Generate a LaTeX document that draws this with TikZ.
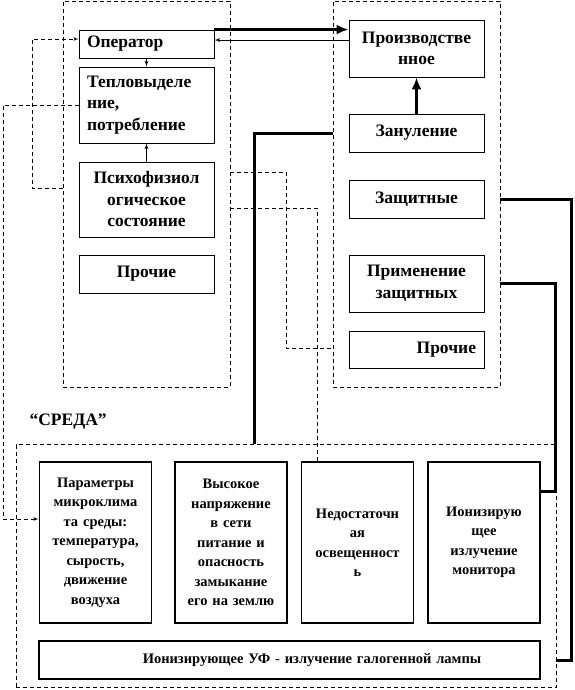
\documentclass[tikz,border=0pt]{standalone}
\usepackage{fontspec}
\setmainfont{Liberation Serif}
\usetikzlibrary{arrows,arrows.meta,positioning}
\tikzset{font=\bfseries}
\tikzset{blk/.style={draw, line width=.9pt, minimum width=135pt, text width=119pt,
    inner xsep=8pt, inner ysep=2pt, align=center,
    font=\fontsize{17.5}{21.5}\selectfont\bfseries}}
\tikzset{envblk/.style={draw, line width=1.8pt, minimum width=112pt, minimum height=161pt,
    text width=104pt, inner xsep=4pt, align=center,
    font=\fontsize{14.5}{19.5}\selectfont\bfseries}}
\tikzset{grp/.style={draw, dash pattern=on 4pt off 3pt, line width=.7pt}}
\tikzset{dsh/.style={dash pattern=on 4pt off 3pt, line width=.7pt}}
\tikzset{thk/.style={line width=3pt}}
\tikzset{bigtip/.style={-{Latex[length=12pt,width=10pt]}}}

\begin{document}
\begin{tikzpicture}[x=1pt,y=-1pt]
  \useasboundingbox (0,0) rectangle (574,690);

  \node[grp, minimum width=167pt, minimum height=386pt] (persbox) at (146.5,194) {};
  \node[grp, minimum width=167pt, minimum height=386pt] (prodbox) at (416.5,194) {};
  \node[grp, minimum width=540pt, minimum height=243pt] (env) at (286,566) {};

  \node[blk, align=left, minimum height=28pt] (oper) at (146.5,44) {Оператор};
  \node[blk, align=left, minimum height=76pt] (heat) at (146.5,105) {Тепловыделе\\ние,\\потребление};
  \node[blk, minimum height=75pt] (psy) at (146.5,199.5) {Психофизиол\\огическое\\состояние};
  \node[blk, minimum height=38pt] (other1) at (146.5,274) {Прочие};

  \node[blk, minimum height=57pt] (prod) at (416.5,48.5) {Производстве\\нное};
  \node[blk, minimum height=38pt] (zero) at (416.5,133) {Зануление};
  \node[blk, minimum height=38pt] (prot) at (416.5,199) {Защитные};
  \node[blk, minimum height=57pt] (apply) at (416.5,283.5) {Применение\\защитных};
  \node[blk, align=right, minimum height=37pt] (other2) at (416.5,349.5) {Прочие};

  \node[anchor=west, font=\fontsize{17.5}{21}\selectfont\bfseries] (envlbl) at (26,422) {“СРЕДА”};

  \node[envblk] (micro) at (95.5,542.5) {Параметры\\микроклима\\та среды:\\температура,\\сырость,\\движение\\воздуха};
  \node[envblk] (volt) at (231,542.5) {Высокое\\напряжение\\в сети\\питание и\\опасность\\замыкание\\его на землю};
  \node[envblk] (light) at (357.5,542.5) {Недостаточн\\ая\\освещенност\\ь};
  \node[envblk] (mon) at (484,542.5) {Ионизирую\\щее\\излучение\\монитора};
  \node[envblk, minimum width=501pt, minimum height=38pt, text width=490pt] (lamp) at (289.5,660)
    {\hspace*{45pt}Ионизирующее УФ - излучение галогенной лампы};

  % operator <-> production
  \draw[thk, bigtip] (oper.north east) -- (oper.north east -| prod.west);
  \draw[line width=.9pt, -latex'] (prod.west |- 0,40) -- (oper.east |- 0,40);
  \draw[line width=.9pt, -latex'] (oper.south) -- (heat.north);
  \draw[line width=.9pt, -latex'] (psy.north) -- (heat.south);
  \draw[thk, bigtip] (zero.north) -- (prod.south);

  \draw[dsh, -latex'] (persbox.west |- 0,188) -| (32,39) -- (oper.west |- 0,39);
  \draw[dsh, -latex'] (heat.west) -| (3,519) -- (micro.west |- 0,519);
  \draw[dsh] (persbox.east |- 0,172) -| (286,348) -- (prodbox.west |- 0,348);
  \draw[dsh] (persbox.east |- 0,208) -| (light.north -| 317,0);

  \draw[thk] (env.north -| 254,0) |- (prodbox.west |- zero.west);
  \draw[thk] (prodbox.east |- prot.east) -| (571,660) -- (env.east |- lamp.east);
  \draw[thk] (prodbox.east |- apply.east) -| (555,491) -- (mon.east |- 0,491);

\end{tikzpicture}
\end{document}
